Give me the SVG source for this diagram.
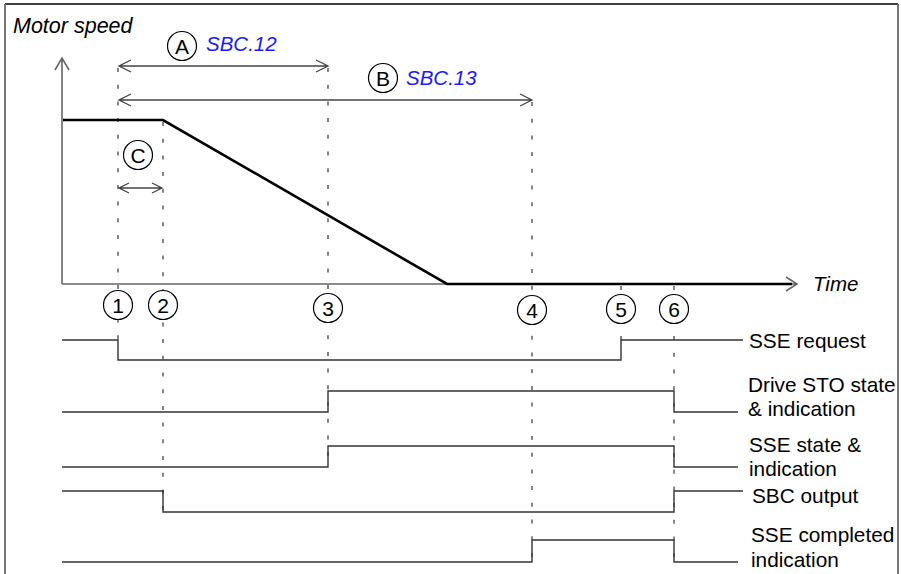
<svg xmlns="http://www.w3.org/2000/svg" width="901" height="574" viewBox="0 0 901 574">
<style>
text{font-family:"Liberation Sans",Arial,sans-serif;fill:#000}
.it{font-style:italic;font-size:20.5px}
.ms{font-size:21.5px}
.blue{fill:#1a1aff}
.lbl{font-size:20.8px}
.num{font-size:21px;text-anchor:middle}
.axis{stroke:#666;stroke-width:1.6;fill:none}
.sig{stroke:#333;stroke-width:1.4;fill:none}
.dash{stroke:#444;stroke-width:1.3;stroke-dasharray:4 12.7;fill:none}
.dim{stroke:#444;stroke-width:1.3;fill:none}
.circ{fill:#fff;stroke:#000;stroke-width:1.2}
.speed{stroke:#000;stroke-width:2.6;fill:none}
</style>
<rect width="901" height="574" fill="#fff"/>
<g id="frame">
<line x1="5" y1="4" x2="898" y2="4" stroke="#000" stroke-width="1.5"/>
<line x1="5" y1="4" x2="5" y2="574" stroke="#777" stroke-width="2"/>
<line x1="898" y1="4" x2="898" y2="574" stroke="#777" stroke-width="2"/>
</g>
<g id="connectors">
<path class="dash" d="M118 68V340"/>
<path class="dash" d="M163 122V512"/>
<path class="dash" d="M328 68V467"/>
<path class="dash" d="M532 102V562"/>
<path class="dash" d="M621 286V340"/>
<path class="dash" d="M674 286V562"/>
<path class="axis" d="M62 284V58M55 70L62 58L69 70"/>
<path class="axis" d="M62 284H797M786 277L797 284L786 291"/>
<path class="speed" d="M63 120H163L447 284H792"/>
<path class="dim" d="M119 66H328M131 60L119 66L131 72M316 60L328 66L316 72"/>
<path class="dim" d="M119 100H532M131 94L119 100L131 106M520 94L532 100L520 106"/>
<path class="dim" d="M119 188H162M129 183L119 188L129 193M152 183L162 188L152 193"/>
<path class="sig" d="M62 340H118V360H621V340H743"/>
<path class="sig" d="M62 412H328V391H674V412H738"/>
<path class="sig" d="M62 467H328V446H674V467H738"/>
<path class="sig" d="M62 491H163V512H674V491H743"/>
<path class="sig" d="M62 562H532V540H674V562H738"/>
</g>
<g id="labels">
<text class="it ms" x="13" y="33">Motor speed</text>
<text class="it" x="813" y="291">Time</text>
<text class="it blue" x="206" y="51">SBC.12</text>
<text class="it blue" x="406" y="85">SBC.13</text>
<text class="lbl" x="749" y="348">SSE request</text>
<text class="lbl" x="748" y="392">Drive STO state</text>
<text class="lbl" x="748" y="416">&amp; indication</text>
<text class="lbl" x="749" y="452">SSE state &amp;</text>
<text class="lbl" x="749" y="476">indication</text>
<text class="lbl" x="752" y="503">SBC output</text>
<text class="lbl" x="751" y="542">SSE completed</text>
<text class="lbl" x="751" y="567">indication</text>
</g>
<g id="markerA"><circle class="circ" cx="182" cy="46" r="14.5"/><text class="num" x="182" y="53.5">A</text></g>
<g id="markerB"><circle class="circ" cx="383" cy="78" r="14.5"/><text class="num" x="383" y="85.5">B</text></g>
<g id="markerC"><circle class="circ" cx="138" cy="155" r="14.5"/><text class="num" x="138" y="162.5">C</text></g>
<g id="event1"><circle class="circ" cx="118" cy="305" r="14.5"/><text class="num" x="118" y="312.5">1</text></g>
<g id="event2"><circle class="circ" cx="163" cy="305" r="14.5"/><text class="num" x="163" y="312.5">2</text></g>
<g id="event3"><circle class="circ" cx="328" cy="308" r="14.5"/><text class="num" x="328" y="315.5">3</text></g>
<g id="event4"><circle class="circ" cx="532" cy="310" r="14.5"/><text class="num" x="532" y="317.5">4</text></g>
<g id="event5"><circle class="circ" cx="621" cy="309" r="14.5"/><text class="num" x="621" y="316.5">5</text></g>
<g id="event6"><circle class="circ" cx="674" cy="309" r="14.5"/><text class="num" x="674" y="316.5">6</text></g>
</svg>
